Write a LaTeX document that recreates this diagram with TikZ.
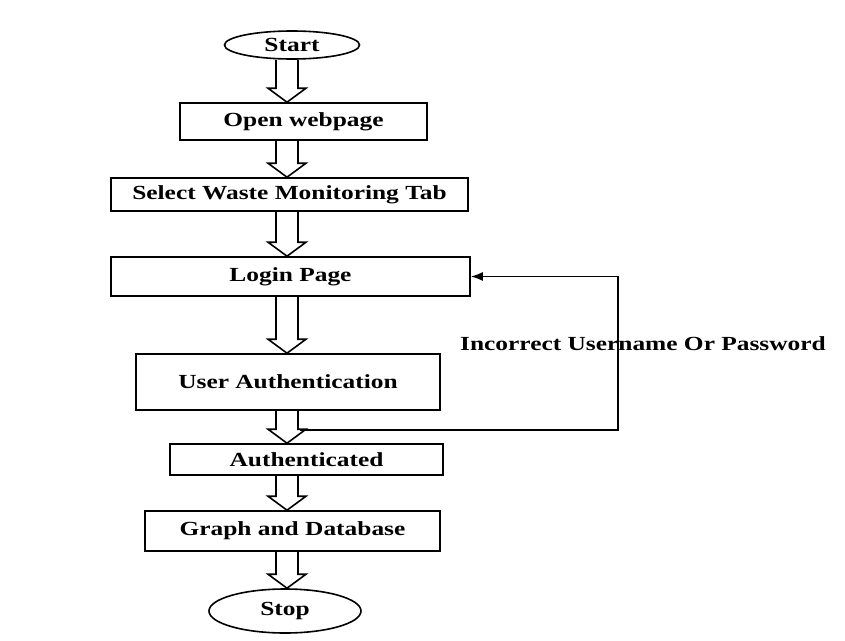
\documentclass[tikz,border=0pt]{standalone}
\usepackage{fontspec}
\setmainfont{Liberation Serif}[FakeStretch=1.27]
\usetikzlibrary{shapes.geometric,arrows.meta,calc}
\tikzset{
  box/.style={draw, line width=1.6pt, rectangle, inner sep=0pt, font=\fontsize{20}{24}\selectfont\bfseries},
  term/.style={draw, line width=1.6pt, ellipse, inner sep=0pt, font=\fontsize{20}{24}\selectfont\bfseries},
  hollow/.style={draw, line width=1.6pt, line join=miter},
  loop/.style={draw, line width=1.6pt, -{Latex[length=12pt,width=9pt]}},
  lbl/.style={font=\fontsize{20}{24}\selectfont\bfseries}
}
\newcommand{\dblarrow}[2]{%
  \draw[hollow] let \p1=(#1.south), \p2=(#2.north) in
    (287pt-11pt,\y1) -- (287pt-11pt,\y2+14pt) -- (287pt-19pt,\y2+14pt) -- (287pt,\y2)
    -- (287pt+19pt,\y2+14pt) -- (287pt+11pt,\y2+14pt) -- (287pt+11pt,\y1);}
\begin{document}
\begin{tikzpicture}[x=1pt,y=-1pt]
\useasboundingbox (0,0) rectangle (845,640);
\node[term, minimum width=135pt, minimum height=28pt] (start) at (292,45) {Start};
\node[box, minimum width=247pt, minimum height=37pt] (open) at (303.5,121.5) {Open webpage};
\node[box, minimum width=357pt, minimum height=33pt] (select) at (289.5,194.5) {Select Waste Monitoring Tab};
\node[box, minimum width=359pt, minimum height=39pt] (login) at (290.5,276.5) {Login Page};
\node[box, minimum width=304pt, minimum height=56pt] (ua) at (288,382) {User Authentication};
\node[box, minimum width=273pt, minimum height=31pt] (auth) at (306.5,459.5) {Authenticated};
\node[box, minimum width=295pt, minimum height=40pt] (graph) at (292.5,531) {Graph and Database};
\node[term, minimum width=152pt, minimum height=44pt] (stop) at (285,611) {Stop};
\dblarrow{start}{open}
\dblarrow{open}{select}
\dblarrow{select}{login}
\dblarrow{login}{ua}
\dblarrow{ua}{auth}
\dblarrow{auth}{graph}
\dblarrow{graph}{stop}
\coordinate (ls) at (300,430);
\coordinate (lc) at (618,430);
\draw[loop] (ls) -- (lc) |- (login.east);
\node[lbl] (inc) at (643,344) {Incorrect Username Or Password};
\end{tikzpicture}
\end{document}
